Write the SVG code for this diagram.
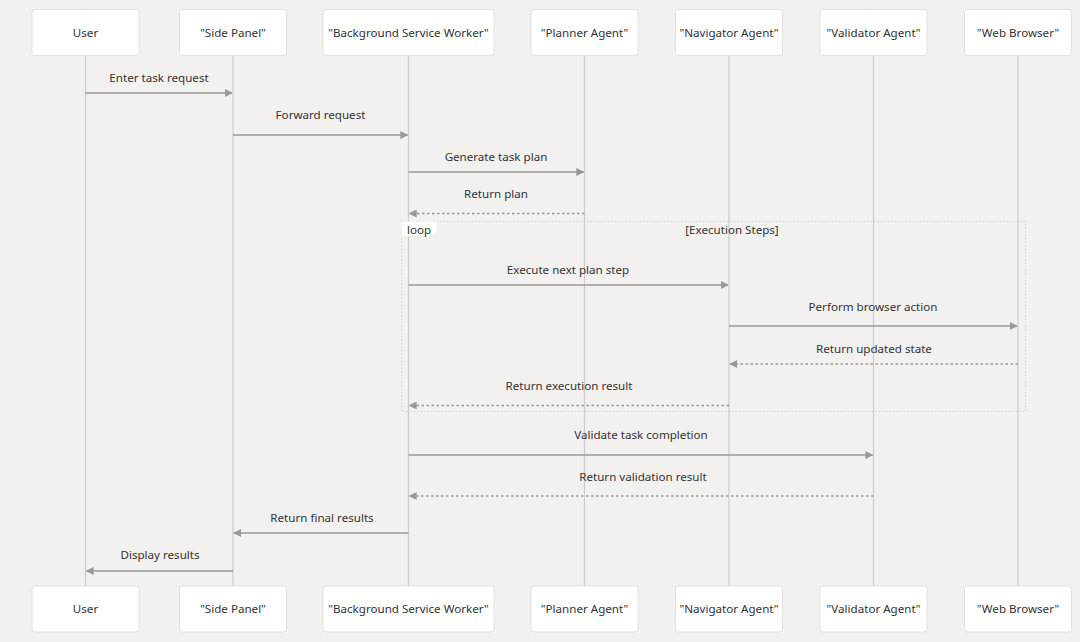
<svg xmlns="http://www.w3.org/2000/svg" width="1080" height="642" viewBox="0 0 1080 642">
<defs>
<style>
text{font-family:"Noto Sans","Open Sans","DejaVu Sans",sans-serif;font-size:11.6px;fill:#333;text-anchor:middle}
.actor rect{fill:#fff;stroke:#e2e2e2;stroke-width:1}
.life{stroke:#cccccc;stroke-width:1.2}
.msg{stroke:#999;stroke-width:1.3;fill:none}
.dash{stroke-dasharray:2.5,2.5}
.loopbox{fill:none;stroke:#d0d0d0;stroke-width:1;stroke-dasharray:1.5,2}
</style>
<marker id="ah" viewBox="0 0 10 10" refX="9" refY="5" markerWidth="8" markerHeight="8" markerUnits="userSpaceOnUse" orient="auto">
<path d="M0,0 L10,5 L0,10 z" fill="#999"/>
</marker>
</defs>
<rect width="1080" height="642" fill="#f2f1f0"/>
<g id="lifelines">
<line class="life" x1="85.5" y1="55" x2="85.5" y2="586"/>
<line class="life" x1="233" y1="55" x2="233" y2="586"/>
<line class="life" x1="408.5" y1="55" x2="408.5" y2="586"/>
<line class="life" x1="584.5" y1="55" x2="584.5" y2="586"/>
<line class="life" x1="729" y1="55" x2="729" y2="586"/>
<line class="life" x1="873.5" y1="55" x2="873.5" y2="586"/>
<line class="life" x1="1018" y1="55" x2="1018" y2="586"/>
</g>
<g id="loop">
<rect class="loopbox" x="401.5" y="221.5" width="624" height="190"/>
<path d="M401.5,221.5 H437 V230 L431,236 H401.5 z" fill="#fff"/>
<text x="419" y="234">loop</text>
<text x="732" y="234">[Execution Steps]</text>
</g>
<g id="actors-top">
<g id="user-top" class="actor"><rect x="32" y="9.5" width="107" height="46" rx="3"/><text x="85.5" y="37">User</text></g>
<g id="sidepanel-top" class="actor"><rect x="179.5" y="9.5" width="107" height="46" rx="3"/><text x="233" y="37">"Side Panel"</text></g>
<g id="bsw-top" class="actor"><rect x="323" y="9.5" width="171" height="46" rx="3"/><text x="408.5" y="37">"Background Service Worker"</text></g>
<g id="planner-top" class="actor"><rect x="531" y="9.5" width="107" height="46" rx="3"/><text x="584.5" y="37">"Planner Agent"</text></g>
<g id="navigator-top" class="actor"><rect x="675.5" y="9.5" width="107" height="46" rx="3"/><text x="729" y="37">"Navigator Agent"</text></g>
<g id="validator-top" class="actor"><rect x="820" y="9.5" width="107" height="46" rx="3"/><text x="873.5" y="37">"Validator Agent"</text></g>
<g id="browser-top" class="actor"><rect x="964.5" y="9.5" width="107" height="46" rx="3"/><text x="1018" y="37">"Web Browser"</text></g>
</g>
<g id="actors-bottom">
<g id="user-bottom" class="actor"><rect x="32" y="586" width="107" height="46" rx="3"/><text x="85.5" y="613">User</text></g>
<g id="sidepanel-bottom" class="actor"><rect x="179.5" y="586" width="107" height="46" rx="3"/><text x="233" y="613">"Side Panel"</text></g>
<g id="bsw-bottom" class="actor"><rect x="323" y="586" width="171" height="46" rx="3"/><text x="408.5" y="613">"Background Service Worker"</text></g>
<g id="planner-bottom" class="actor"><rect x="531" y="586" width="107" height="46" rx="3"/><text x="584.5" y="613">"Planner Agent"</text></g>
<g id="navigator-bottom" class="actor"><rect x="675.5" y="586" width="107" height="46" rx="3"/><text x="729" y="613">"Navigator Agent"</text></g>
<g id="validator-bottom" class="actor"><rect x="820" y="586" width="107" height="46" rx="3"/><text x="873.5" y="613">"Validator Agent"</text></g>
<g id="browser-bottom" class="actor"><rect x="964.5" y="586" width="107" height="46" rx="3"/><text x="1018" y="613">"Web Browser"</text></g>
</g>
<g id="connectors">
<line class="msg" x1="85.5" y1="93" x2="232" y2="93" marker-end="url(#ah)"/>
<text x="159" y="81.5">Enter task request</text>
<line class="msg" x1="233" y1="135" x2="407.5" y2="135" marker-end="url(#ah)"/>
<text x="320.5" y="118.5">Forward request</text>
<line class="msg" x1="408.5" y1="172" x2="583.5" y2="172" marker-end="url(#ah)"/>
<text x="496" y="160.5">Generate task plan</text>
<line class="msg dash" x1="584.5" y1="213.5" x2="409.5" y2="213.5" marker-end="url(#ah)"/>
<text x="496" y="197.5">Return plan</text>
<line class="msg" x1="408.5" y1="285" x2="728" y2="285" marker-end="url(#ah)"/>
<text x="568" y="273.5">Execute next plan step</text>
<line class="msg" x1="729" y1="326" x2="1017" y2="326" marker-end="url(#ah)"/>
<text x="873" y="310.5">Perform browser action</text>
<line class="msg dash" x1="1018" y1="364" x2="730" y2="364" marker-end="url(#ah)"/>
<text x="874" y="352.5">Return updated state</text>
<line class="msg dash" x1="729" y1="405.5" x2="409.5" y2="405.5" marker-end="url(#ah)"/>
<text x="569" y="389.5">Return execution result</text>
<line class="msg" x1="408.5" y1="455" x2="872.5" y2="455" marker-end="url(#ah)"/>
<text x="641" y="438.5">Validate task completion</text>
<line class="msg dash" x1="873.5" y1="496" x2="409.5" y2="496" marker-end="url(#ah)"/>
<text x="643" y="480.5">Return validation result</text>
<line class="msg" x1="408.5" y1="533" x2="234" y2="533" marker-end="url(#ah)"/>
<text x="322" y="521.5">Return final results</text>
<line class="msg" x1="233" y1="571" x2="86.5" y2="571" marker-end="url(#ah)"/>
<text x="160" y="558.5">Display results</text>
</g>
</svg>
